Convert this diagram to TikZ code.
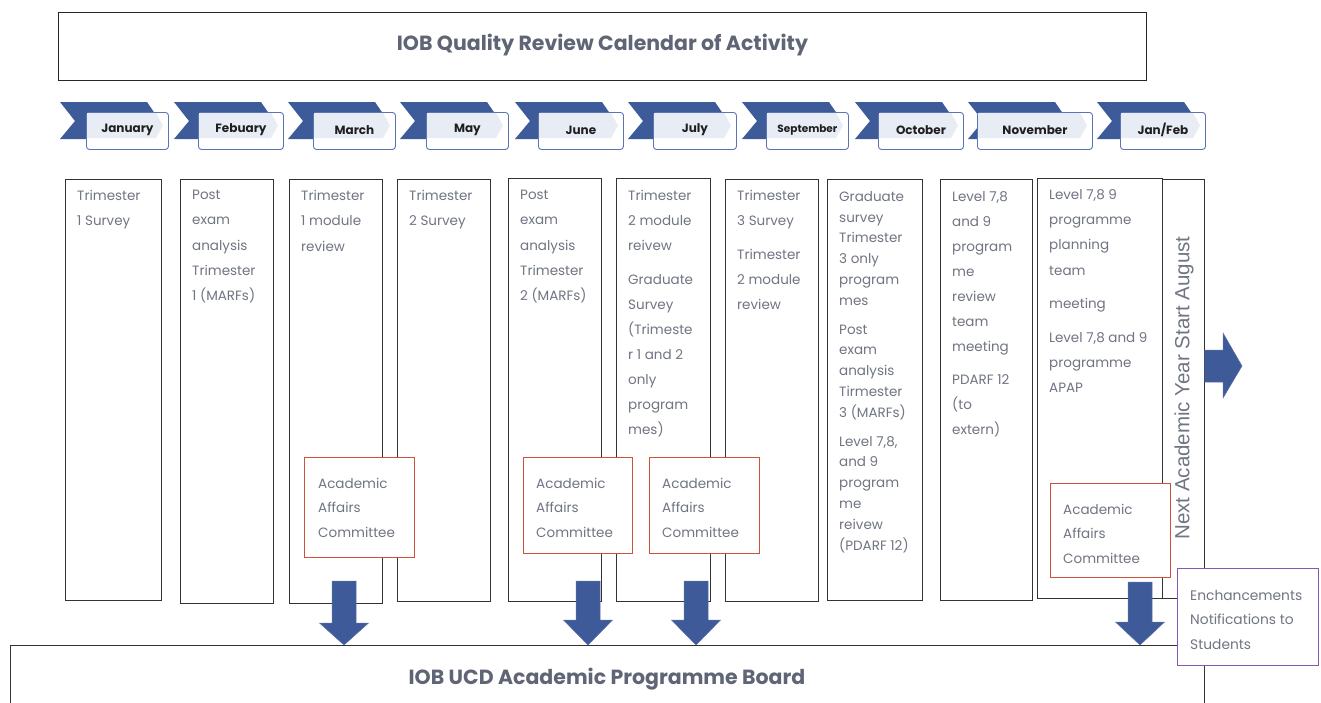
\documentclass[tikz,border=0pt]{standalone}
\usepackage{fontspec}
\setmainfont{Poppins}
\newfontfamily\arialf{Liberation Sans}
\usetikzlibrary{calc}
\definecolor{ribbonblue}{RGB}{61,90,153}
\definecolor{mboxblue}{RGB}{91,116,179}
\definecolor{chevfill}{RGB}{232,236,245}
\definecolor{txtgray}{RGB}{112,117,130}
\definecolor{titlegray}{RGB}{95,101,117}
\definecolor{cmred}{RGB}{208,81,59}
\definecolor{purp}{RGB}{139,85,181}
\definecolor{arrowblue}{RGB}{62,90,152}
\definecolor{arrowedge}{RGB}{90,114,170}
\tikzset{
  ribbon/.style={fill=ribbonblue},
  mbox/.style={draw=mboxblue, line width=0.9pt, fill=white, rounded corners=3pt, anchor=north west, inner sep=0pt, minimum height=37pt},
  chev/.style={fill=chevfill},
  mlabel/.style={text=black!88},
  colbox/.style={draw=black!80, line width=0.8pt, anchor=north west, inner sep=0pt},
  coltext/.style={anchor=north west, inner sep=0pt, align=left, text=txtgray, font=\fontsize{13.5}{25.3}\selectfont},
  cmtext/.style={coltext, font=\fontsize{13.5}{24.5}\selectfont},
  cmbox/.style={draw=cmred, line width=0.9pt, fill=white, anchor=north west, inner sep=0pt},
  pbox/.style={draw=purp, line width=0.9pt, fill=white, anchor=north west, inner sep=0pt},
  barrow/.style={fill=arrowblue, draw=arrowedge, line width=0.5pt},
  bigtitle/.style={font=\bfseries\fontsize{20.5}{22}\selectfont, text=titlegray},
}
% ribbon L, box left, box width, label, name, font size
\newcommand\mbanner[6]{%
  \fill[ribbon] (#1,102) -- (#1+87,102) -- (#1+100,121) -- (#1+87,139) -- (#1,139) -- (#1+15,121) -- cycle;
  \node[mbox, minimum width=#3 pt] (#5) at (#2,112) {};
  \fill[chev] (#2+1,113) -- (#2+#3-12,113) -- (#2+#3-5,125.5) -- (#2+#3-12,138) -- (#2+1,138) -- cycle;
  \node[mlabel, font=\bfseries\fontsize{#6}{13}\selectfont] (#5l) at ($(#5.center)+(0,-1)$) {#4};
}
% center x, top y, head y, tip node
\newcommand\downblock[4]{%
  \fill[barrow] (#1-12,#2) -- (#1+12,#2) -- (#1+12,#3) -- (#1+24.5,#3) -- (#1,0 |- #4.north) -- (#1-24.5,#3) -- (#1-12,#3) -- cycle;
}
\begin{document}
\begin{tikzpicture}[x=1pt,y=-1pt]
\useasboundingbox (0,0) rectangle (1321,702);
\clip (0,0) rectangle (1321,702);
\fill[white] (0,0) rectangle (1321,702);

% title
\node[draw=black!85, line width=0.9pt, anchor=north west, inner sep=0pt, minimum width=1088pt, minimum height=68pt] (title) at (58,12) {};
\node[bigtitle] (titletext) at ($(title.center)+(0,-1)$) {IOB Quality Review Calendar of Activity};

% month banners
\mbanner{60}{86}{82}{January}{m1}{12}
\mbanner{174}{198}{85}{Febuary}{m2}{12}
\mbanner{288}{313}{82}{March}{m3}{12}
\mbanner{400}{426}{82}{May}{m4}{12}
\mbanner{515}{538}{85}{June}{m5}{12}
\mbanner{628}{653}{83}{July}{m6}{12}
\mbanner{742}{766}{82}{September}{m7}{10.5}
\mbanner{855}{878}{85}{October}{m8}{12}
\mbanner{968}{977}{115}{November}{m9}{12}
\mbanner{1097}{1120}{85}{Jan/Feb}{m10}{12}

% board (bottom edge beyond page)
\node[colbox, minimum width=1194pt, minimum height=90pt] (board) at (10,645) {};
\node[bigtitle] (boardtext) at (607,679) {IOB UCD Academic Programme Board};

% columns
\node[colbox, minimum width=96pt, minimum height=421pt] (c1) at (65,179) {};
\node[colbox, minimum width=93pt, minimum height=424pt] (c2) at (180,179) {};
\node[colbox, minimum width=93pt, minimum height=424pt] (c3) at (289,179) {};
\node[colbox, minimum width=93pt, minimum height=422pt] (c4) at (397,179) {};
\node[colbox, minimum width=93pt, minimum height=423pt] (c5) at (508,178) {};
\node[colbox, minimum width=94pt, minimum height=423pt] (c6) at (616,178) {};
\node[colbox, minimum width=93pt, minimum height=422pt] (c7) at (725,179) {};
\node[colbox, minimum width=95pt, minimum height=421pt] (c8) at (827,179) {};
\node[colbox, minimum width=92pt, minimum height=421pt] (c9) at (940,179) {};
\node[colbox, minimum width=125pt, minimum height=420pt] (c10) at (1037,178) {};
\node[colbox, minimum width=42pt, minimum height=419pt] (c11) at (1162,179) {};

% column texts
\node[coltext] (t1) at (77,190) {Trimester\\1 Survey};
\node[coltext] (t2) at (192,190) {Post\\exam\\analysis\\Trimester\\1 (MARFs)};
\node[coltext] (t3) at (301,190) {Trimester\\1 module\\review};
\node[coltext] (t4) at (409,190) {Trimester\\2 Survey};
\node[coltext] (t5) at (520,190) {Post\\exam\\analysis\\Trimester\\2 (MARFs)};
\node[coltext, font=\fontsize{13.5}{25}\selectfont] (t6) at (628,190) {Trimester\\2 module\\reivew\\[9pt]Graduate\\Survey\\(Trimeste\\r 1 and 2\\only\\program\\mes)};
\node[coltext, font=\fontsize{13.5}{25}\selectfont] (t7) at (737,190) {Trimester\\3 Survey\\[9pt]Trimester\\2 module\\review};
\node[coltext, font=\fontsize{13.5}{20.8}\selectfont] (t8) at (839,191) {Graduate\\survey\\Trimester\\3 only\\program\\mes\\[8pt]Post\\exam\\analysis\\Tirmester\\3 (MARFs)\\[8pt]Level 7,8,\\and 9\\program\\me\\reivew\\(PDARF 12)};
\node[coltext, font=\fontsize{13.5}{25}\selectfont] (t9) at (952,191) {Level 7,8\\and 9\\program\\me\\review\\team\\meeting\\[8pt]PDARF 12\\(to\\extern)};
\node[coltext, font=\fontsize{13.5}{25.3}\selectfont] (t10) at (1049,189) {Level 7,8 9\\programme\\planning\\team\\[8pt]meeting\\[8.5pt]Level 7,8 and 9\\programme\\APAP};
\node[rotate=90, text=txtgray, font=\arialf\fontsize{20.5}{22}\selectfont] (t11) at (1184,388) {Next Academic Year Start August};

% committee boxes
\node[cmbox, minimum width=110pt, minimum height=100pt] (cm1) at (304,457) {};
\node[cmbox, minimum width=109pt, minimum height=96pt] (cm2) at (523,457) {};
\node[cmbox, minimum width=110pt, minimum height=96pt] (cm3) at (649,457) {};
\node[cmbox, minimum width=120pt, minimum height=94pt] (cm4) at (1050,483) {};
\node[cmtext] (cm1t) at (318,478) {Academic\\Affairs\\Committee};
\node[cmtext] (cm2t) at (536,478) {Academic\\Affairs\\Committee};
\node[cmtext] (cm3t) at (662,478) {Academic\\Affairs\\Committee};
\node[cmtext] (cm4t) at (1063,504) {Academic\\Affairs\\Committee};

% block arrows down
\downblock{344}{581}{623}{board}
\downblock{588}{581}{620}{board}
\downblock{696}{581}{620}{board}
\downblock{1140}{582}{622}{board}

% right arrow
\fill[barrow] (c11.east |- 0,350) -- (1223,350) -- (1223,333) -- (1242,366) -- (1223,398) -- (1223,382) -- (c11.east |- 0,382) -- cycle;

% purple box
\node[pbox, minimum width=141pt, minimum height=97pt] (pb) at (1177,568) {};
\node[cmtext, font=\fontsize{13.8}{24.5}\selectfont] (pbt) at (1190,590) {Enchancements\\Notifications to\\Students};
\end{tikzpicture}
\end{document}
